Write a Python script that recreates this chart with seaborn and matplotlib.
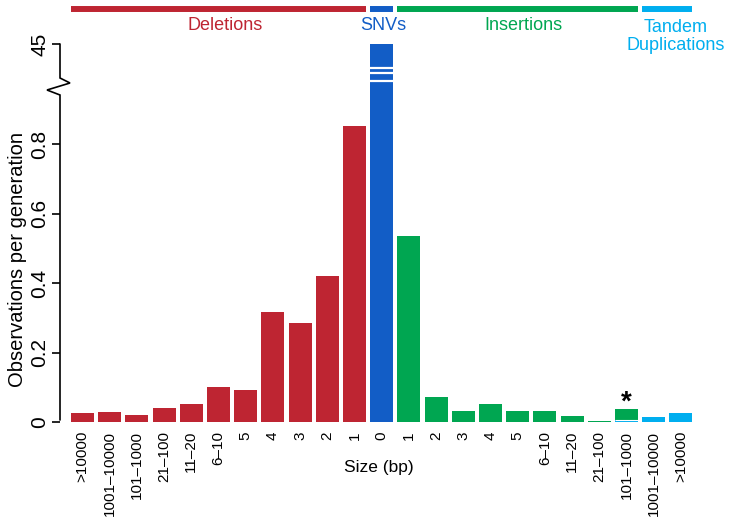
import matplotlib
matplotlib.use("Agg")
import matplotlib.pyplot as plt
import matplotlib.transforms as mtransforms
import numpy as np
import pandas as pd
import seaborn as sns

# size classes and rates
del_labels = [">10000", "1001–10000", "101–1000", "21–100", "11–20", "6–10", "5", "4", "3", "2", "1"]
del_values = [0.027, 0.030, 0.019, 0.041, 0.053, 0.102, 0.091, 0.317, 0.285, 0.421, 0.852]
snv_labels = ["0"]
snv_values = [45.0]
ins_labels = ["1", "2", "3", "4", "5", "6–10", "11–20", "21–100", "101–1000"]
ins_values = [0.536, 0.0725, 0.033, 0.053, 0.033, 0.033, 0.016, 0.003, 0.036]
td_labels = ["1001–10000", ">10000"]
td_values = [0.013, 0.025]
td_small_label = "101–1000"  # tandem duplications sharing the insertion 101-1000 slot
td_small_value = 0.007

group_names = ["Deletions", "SNVs", "Insertions", "Tandem\nDuplications"]
group_colors = ["#BE2532", "#125DC6", "#00A651", "#00AEEF"]

sns.set_theme(style="white")
plt.rcParams["font.family"] = ["Liberation Sans", "DejaVu Sans"]

rows = []
for grp, labels, values in [
    ("Deletions", del_labels, del_values),
    ("SNVs", snv_labels, snv_values),
    ("Insertions", ins_labels, ins_values),
    ("Tandem\nDuplications", td_labels, td_values),
]:
    for lab, val in zip(labels, values):
        rows.append({"key": f"{grp}|{lab}", "size": lab, "value": val, "group": grp})
df = pd.DataFrame(rows)
order = list(df["key"])
palette = dict(zip(group_names, group_colors))

fig = plt.figure(figsize=(7.29, 5.19), dpi=100)
W, H = 729, 519
ax_l, ax_r, ax_t, ax_b = 60, 697, 44, 422
ax = fig.add_axes([ax_l / W, 1 - ax_b / H, (ax_r - ax_l) / W, (ax_b - ax_t) / H])

sns.barplot(data=df, x="key", y="value", hue="group", order=order, hue_order=group_names,
            palette=palette, dodge=False, width=0.846, saturation=1, linewidth=0,
            legend=False, ax=ax)

# small tandem duplication bar drawn on top of the insertion 101-1000 bar
td_key = "Insertions|" + td_small_label
td_df = pd.DataFrame({"key": [td_key], "value": [td_small_value]})
sns.barplot(data=td_df, x="key", y="value", order=order, color=group_colors[3],
            width=0.846, saturation=1, linewidth=0, ax=ax)
td_pos = order.index(td_key)
ax.plot([td_pos - 0.423, td_pos + 0.423], [td_small_value] * 2, color="white", lw=0.8,
        solid_capstyle="butt")

# broken y axis: linear up to B, compressed above
B = 0.941
K = 0.1468 / (45 - B)


def fwd(v):
    v = np.asarray(v, dtype=float)
    return np.where(v <= B, v, B + (v - B) * K)


def inv(u):
    u = np.asarray(u, dtype=float)
    return np.where(u <= B, u, B + (u - B) / K)


ax.set_yscale("function", functions=(fwd, inv))
ax.set_ylim(0, 45)
ax.set_xlim(-0.827, 22.59)
ax.minorticks_off()

for s in ax.spines.values():
    s.set_visible(False)

yt = [0, 0.2, 0.4, 0.6, 0.8, 45]
ax.set_yticks(yt)
ax.set_yticklabels(["0", "0.2", "0.4", "0.6", "0.8", "45"], rotation=90, va="center", fontsize=15)
ax.tick_params(axis="y", left=True, length=6, width=1.2, pad=1.5, color="black", labelcolor="black")

ax.set_xticks(range(len(order)))
ax.set_xticklabels(list(df["size"]), rotation=90, ha="center", va="top", fontsize=11)
ax.tick_params(axis="x", bottom=False, length=0, pad=6.5, labelcolor="black")

ax.set_xlabel("Size (bp)", fontsize=12.5, color="black")
ax.xaxis.set_label_coords(0.5, -0.1)
ax.set_ylabel("Observations per generation", fontsize=14.5, color="black")
ax.yaxis.set_label_coords(-0.052, 0.43)


def ax_y(px):
    return (ax_b - px) / (ax_b - ax_t)


def ax_x(px):
    return (px - ax_l) / (ax_r - ax_l)


# left axis line with zigzag break
zig_px = [(60, 44), (60, 78), (70, 83), (47, 90), (60, 95), (60, 420)]
ax.plot([ax_x(p[0]) for p in zig_px], [ax_y(p[1]) for p in zig_px], color="black",
        lw=1.2, transform=ax.transAxes, clip_on=False, solid_joinstyle="miter")

# white break stripes across the SNV bar
blend = mtransforms.blended_transform_factory(ax.transData, ax.transAxes)
snv_pos = order.index("SNVs|0")
for py in [68, 73, 80.5]:
    ax.plot([snv_pos - 0.423, snv_pos + 0.423], [ax_y(py)] * 2, color="white", lw=1.6,
            transform=blend, solid_capstyle="butt")

# group bars and names above the plot
text_shift = [0.24, 0.07, 0.2, 0.3]
start = 0
for name, col, n, sh in zip(group_names, group_colors,
                            [len(del_labels), len(snv_labels), len(ins_labels), len(td_labels)],
                            text_shift):
    x0, x1 = start - 0.423, start + n - 1 + 0.423
    ax.plot([x0, x1], [ax_y(9)] * 2, color=col, lw=4.3, transform=blend,
            clip_on=False, solid_capstyle="butt")
    ty = ax_y(36.5) if "\n" in name else ax_y(26)
    ax.text((x0 + x1) / 2 + sh, ty, name, color=col, fontsize=13, ha="center", va="center",
            transform=blend, linespacing=1.15)
    start += n

# asterisk above insertion 101-1000
ax.annotate("*", xy=(td_pos, ins_values[-1]), xytext=(0, 14), textcoords="offset points",
            ha="center", va="top", fontsize=20, fontweight="bold", color="black")

fig.savefig("out.png", dpi=100)
